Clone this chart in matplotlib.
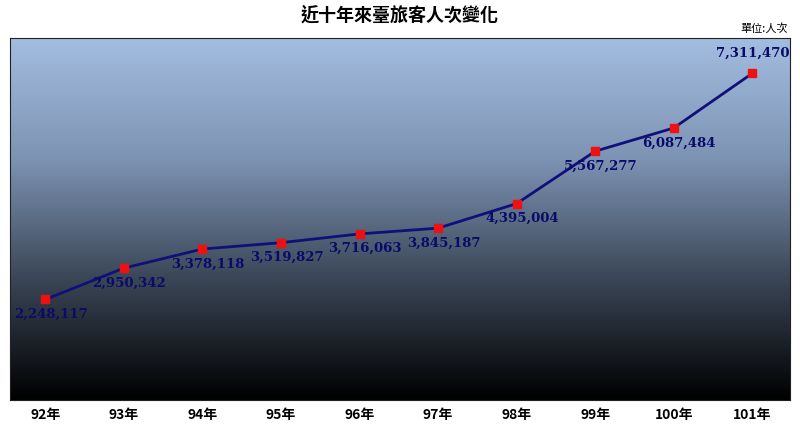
import matplotlib
matplotlib.use("Agg")
import matplotlib.pyplot as plt
import numpy as np
from matplotlib.colors import LinearSegmentedColormap

plt.rcParams['font.family'] = ['Noto Sans CJK TC', 'DejaVu Sans']

years = ["92年", "93年", "94年", "95年", "96年", "97年", "98年", "99年", "100年", "101年"]
visitors = [2248117, 2950342, 3378118, 3519827, 3716063, 3845187, 4395004, 5567277, 6087484, 7311470]

fig = plt.figure(figsize=(8, 4.38), dpi=100)
ax = fig.add_axes([0.0125, 0.087, 0.975, 0.826])

x = np.arange(len(years))
xlim = (-0.45, 9.48)
ylim = (0, 8_100_000)

# background gradient: light steel blue at top fading to black at bottom
cmap = LinearSegmentedColormap.from_list("bg", ["#000000", "#3a4656", "#7d93b3", "#a3bde0"])
grad = np.linspace(0, 1, 256).reshape(-1, 1)
ax.imshow(grad, cmap=cmap, aspect="auto", origin="lower",
          extent=[xlim[0], xlim[1], ylim[0], ylim[1]], zorder=0)

ax.plot(x, visitors, color="#10107a", lw=2, zorder=2)
ax.plot(x, visitors, ls="none", marker="s", ms=6, color="#ee1111", zorder=3)

for i, v in enumerate(visitors):
    if i == len(visitors) - 1:
        ax.annotate(f"{v:,}", (i, v), xytext=(0, 10), textcoords="offset points",
                    ha="center", va="bottom", fontsize=9.5, color="#0a0a6a",
                    family="DejaVu Serif", fontweight="bold")
    else:
        ax.annotate(f"{v:,}", (i, v), xytext=(4, -6), textcoords="offset points",
                    ha="center", va="top", fontsize=9.5, color="#0a0a6a",
                    family="DejaVu Serif", fontweight="bold")

ax.set_xlim(*xlim)
ax.set_ylim(*ylim)
ax.set_yticks([])
ax.set_xticks(x)
ax.set_xticklabels(years, fontsize=10, fontweight="bold")
ax.tick_params(axis="x", length=0, pad=6)
for s in ax.spines.values():
    s.set_color("#222222")
    s.set_linewidth(0.8)

fig.text(0.5, 0.965, "近十年來臺旅客人次變化", ha="center", va="center",
         fontsize=13, fontweight="bold")
fig.text(0.985, 0.935, "單位:人次", ha="right", va="center", fontsize=8)

fig.savefig("out.png", dpi=100)
